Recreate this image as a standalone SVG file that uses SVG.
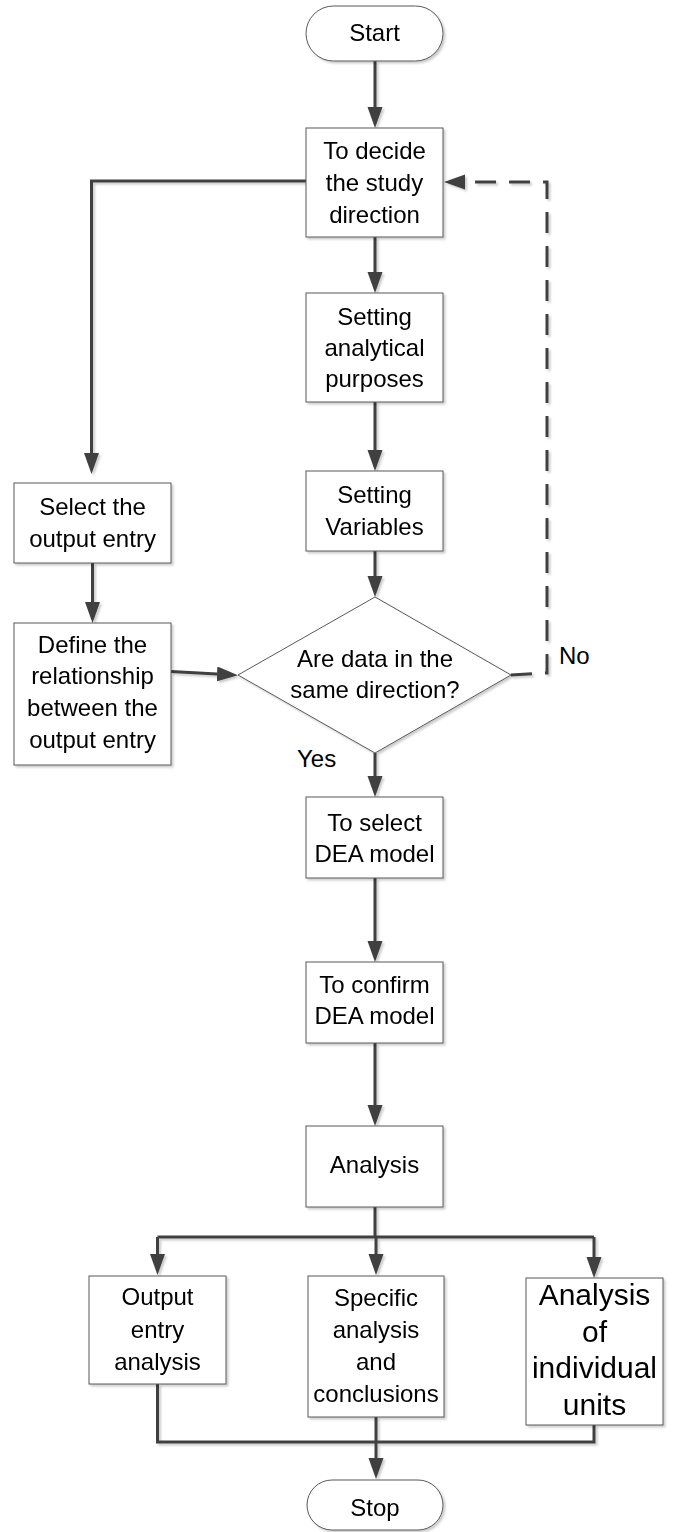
<svg xmlns="http://www.w3.org/2000/svg" width="674" height="1532" viewBox="0 0 674 1532">
<style>
.box{fill:#ffffff;stroke:#595959;stroke-width:1;}
.t{font-family:"Liberation Sans",Arial,sans-serif;font-size:24px;fill:#000;text-anchor:middle;}
.tb{font-family:"Liberation Sans",Arial,sans-serif;font-size:30px;fill:#000;text-anchor:middle;}
.lbl{font-family:"Liberation Sans",Arial,sans-serif;font-size:24px;fill:#000;}
.c{fill:none;stroke:#404040;stroke-width:3;}
.dash{stroke-dasharray:21 13;}
</style>
<defs>
<marker id="ah" markerUnits="userSpaceOnUse" markerWidth="22" markerHeight="16" refX="0" refY="7.5" orient="auto">
<path d="M0,0 L21,7.5 L0,15 Z" fill="#404040"/>
</marker>
<filter id="sh" x="-10%" y="-10%" width="130%" height="130%">
<feDropShadow dx="2" dy="2" stdDeviation="0.8" flood-color="#000" flood-opacity="0.2"/>
</filter>
</defs>

<g id="connectors" filter="url(#sh)">
<path class="c" d="M375,61 V107" marker-end="url(#ah)"/>
<path class="c" d="M375,237 V272" marker-end="url(#ah)"/>
<path class="c" d="M375,402 V450" marker-end="url(#ah)"/>
<path class="c" d="M375,551 V576" marker-end="url(#ah)"/>
<path class="c" d="M375,753 V776" marker-end="url(#ah)"/>
<path class="c" d="M375,878 V941" marker-end="url(#ah)"/>
<path class="c" d="M375,1043 V1105" marker-end="url(#ah)"/>
<path class="c" d="M375,1207 V1237"/>
<path class="c" d="M157.5,1237 H594"/>
<path class="c" d="M157.5,1237 V1254" marker-end="url(#ah)"/>
<path class="c" d="M376,1237 V1254" marker-end="url(#ah)"/>
<path class="c" d="M594,1237 V1257" marker-end="url(#ah)"/>
<path class="c" d="M157.5,1384 V1442 H594 V1425"/>
<path class="c" d="M376,1417 V1458" marker-end="url(#ah)"/>
<path class="c" d="M306,181 H91.5 V453" marker-end="url(#ah)"/>
<path class="c" d="M92.5,563 V602" marker-end="url(#ah)"/>
<path class="c" d="M171,671.5 L217,674" marker-end="url(#ah)"/>
<path class="c dash" d="M511,675 L547,673 V182 H465" marker-end="url(#ah)"/>
</g>

<g id="start" filter="url(#sh)">
<rect class="box" x="306" y="6" width="137" height="55" rx="27.5" ry="27.5"/>
<text class="t" x="374.5" y="41">Start</text>
</g>

<g id="decide" filter="url(#sh)">
<rect class="box" x="306" y="128" width="137" height="109"/>
<text class="t" x="374.5" y="159">To decide</text>
<text class="t" x="374.5" y="191">the study</text>
<text class="t" x="374.5" y="223">direction</text>
</g>

<g id="purposes" filter="url(#sh)">
<rect class="box" x="306" y="293" width="137" height="109"/>
<text class="t" x="374.5" y="325">Setting</text>
<text class="t" x="374.5" y="356">analytical</text>
<text class="t" x="374.5" y="387">purposes</text>
</g>

<g id="variables" filter="url(#sh)">
<rect class="box" x="306" y="471" width="137" height="80"/>
<text class="t" x="374.5" y="503">Setting</text>
<text class="t" x="374.5" y="535">Variables</text>
</g>

<g id="select-output" filter="url(#sh)">
<rect class="box" x="14" y="483" width="157" height="80"/>
<text class="t" x="92.5" y="515">Select the</text>
<text class="t" x="92.5" y="547">output entry</text>
</g>

<g id="define" filter="url(#sh)">
<rect class="box" x="14" y="623" width="157" height="142"/>
<text class="t" x="92.5" y="653">Define the</text>
<text class="t" x="92.5" y="684">relationship</text>
<text class="t" x="92.5" y="716">between the</text>
<text class="t" x="92.5" y="748">output entry</text>
</g>

<g id="decision" filter="url(#sh)">
<polygon class="box" points="375,597 511,675 375,753 238,675"/>
<text class="t" x="375" y="667">Are data in the</text>
<text class="t" x="375" y="698">same direction?</text>
</g>

<g id="labels">
<text class="lbl" x="559" y="664">No</text>
<text class="lbl" x="297" y="767">Yes</text>
</g>

<g id="select-dea" filter="url(#sh)">
<rect class="box" x="306" y="797" width="137" height="81"/>
<text class="t" x="374.5" y="831">To select</text>
<text class="t" x="374.5" y="862">DEA model</text>
</g>

<g id="confirm-dea" filter="url(#sh)">
<rect class="box" x="306" y="962" width="137" height="81"/>
<text class="t" x="374.5" y="993">To confirm</text>
<text class="t" x="374.5" y="1024">DEA model</text>
</g>

<g id="analysis" filter="url(#sh)">
<rect class="box" x="306" y="1126" width="137" height="81"/>
<text class="t" x="374.5" y="1173">Analysis</text>
</g>

<g id="output-analysis" filter="url(#sh)">
<rect class="box" x="89" y="1276" width="137" height="108"/>
<text class="t" x="157.5" y="1305">Output</text>
<text class="t" x="157.5" y="1338">entry</text>
<text class="t" x="157.5" y="1370">analysis</text>
</g>

<g id="specific" filter="url(#sh)">
<rect class="box" x="308" y="1276" width="136" height="141"/>
<text class="t" x="376" y="1306">Specific</text>
<text class="t" x="376" y="1338">analysis</text>
<text class="t" x="376" y="1370">and</text>
<text class="t" x="376" y="1402">conclusions</text>
</g>

<g id="individual" filter="url(#sh)">
<rect class="box" x="526" y="1278" width="137" height="147"/>
<text class="tb" x="594.5" y="1305">Analysis</text>
<text class="tb" x="594.5" y="1342">of</text>
<text class="tb" x="594.5" y="1378">individual</text>
<text class="tb" x="594.5" y="1415">units</text>
</g>

<g id="stop" filter="url(#sh)">
<rect class="box" x="307" y="1480" width="136" height="50" rx="25" ry="25"/>
<text class="t" x="375" y="1516">Stop</text>
</g>
</svg>
